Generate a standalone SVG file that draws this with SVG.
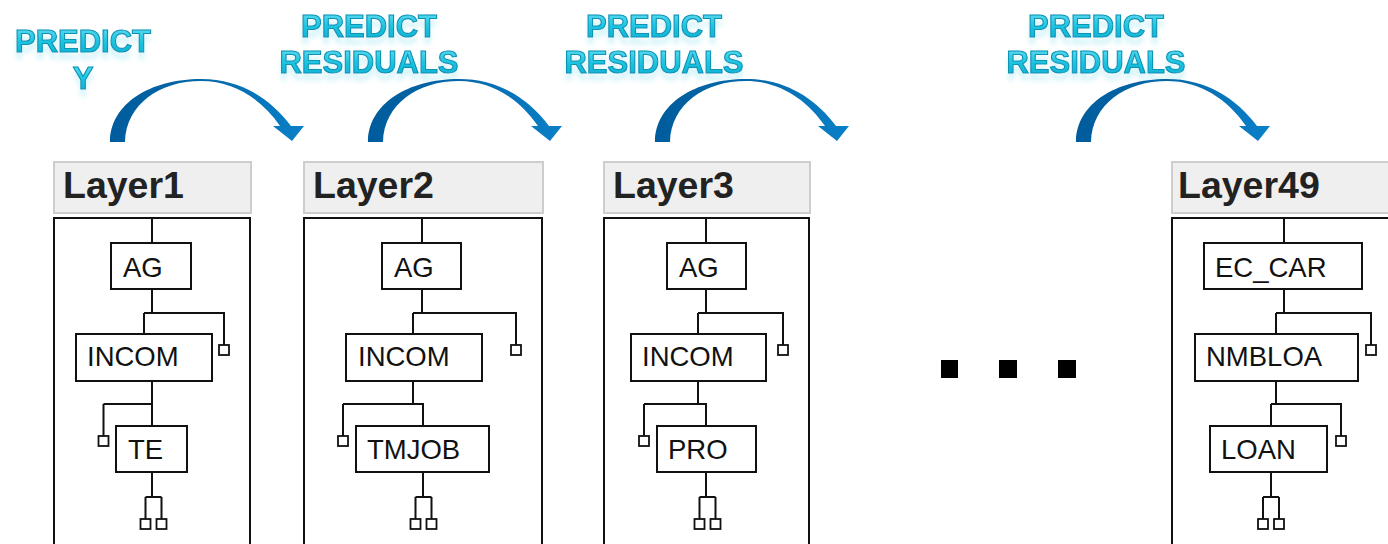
<svg xmlns="http://www.w3.org/2000/svg" width="1388" height="544" viewBox="0 0 1388 544">
<defs>
<style>
.hdr{fill:#efefef;stroke:#cdcdcd;stroke-width:2}
.frame{fill:none;stroke:#111;stroke-width:2}
.box{fill:#fff;stroke:#111;stroke-width:2}
.leaf{fill:#fff;stroke:#111;stroke-width:1.8}
.ln{fill:none;stroke:#111;stroke-width:2}
.ltxt{font-family:"Liberation Sans",Arial,sans-serif;font-weight:bold;font-size:37.5px;fill:#222}
.ntxt{font-family:"Liberation Sans",Arial,sans-serif;font-size:27.5px;fill:#111}
.ptxt{font-family:"Liberation Sans",Arial,sans-serif;font-weight:bold;font-size:31px;fill:url(#cyan);stroke:#0a93b6;stroke-width:1.1;text-anchor:middle;filter:url(#glow)}
.dot{fill:#000}
</style>
<linearGradient id="cyan" x1="0" y1="0" x2="0" y2="1">
<stop offset="0" stop-color="#6fe0f2"/>
<stop offset="0.5" stop-color="#1cc4e0"/>
<stop offset="1" stop-color="#0cacd0"/>
</linearGradient>
<linearGradient id="blue" x1="0" y1="0" x2="1" y2="0">
<stop offset="0" stop-color="#005c9c"/>
<stop offset="0.5" stop-color="#0569ab"/>
<stop offset="1" stop-color="#0a80c8"/>
</linearGradient>
<filter id="glow" x="-10%" y="-20%" width="120%" height="180%">
<feGaussianBlur in="SourceAlpha" stdDeviation="2.5" result="b"/>
<feOffset in="b" dy="7" result="o"/>
<feFlood flood-color="#9fe6f2" flood-opacity="0.45"/>
<feComposite in2="o" operator="in" result="s"/>
<feMerge><feMergeNode in="s"/><feMergeNode in="SourceGraphic"/></feMerge>
</filter>
<path id="arc" d="M110,142 C110,104 150,79 201,79 C240,79 270,98 291,126 L304,126 L292,141 L273,126 L280,126 C262,100 235,81 201,81 C160,81 126,104 125,142 Z" fill="url(#blue)"/>
</defs>

<g id="labels">
<text class="ptxt" x="83" y="52">PREDICT</text>
<text class="ptxt" x="83" y="89">Y</text>
<text class="ptxt" x="369" y="37">PREDICT</text>
<text class="ptxt" x="369" y="73">RESIDUALS</text>
<text class="ptxt" x="654" y="37">PREDICT</text>
<text class="ptxt" x="654" y="73">RESIDUALS</text>
<text class="ptxt" x="1096" y="37">PREDICT</text>
<text class="ptxt" x="1096" y="73">RESIDUALS</text>
</g>

<g id="layer1">
<rect class="hdr" x="54" y="162" width="197" height="51"/>
<text class="ltxt" x="63" y="198">Layer1</text>
<rect class="frame" x="54" y="218" width="196" height="340"/>
</g>
<g id="layer2">
<rect class="hdr" x="304" y="162" width="239" height="51"/>
<text class="ltxt" x="313" y="198">Layer2</text>
<rect class="frame" x="304" y="218" width="238" height="340"/>
</g>
<g id="layer3">
<rect class="hdr" x="604" y="162" width="206" height="51"/>
<text class="ltxt" x="613" y="198">Layer3</text>
<rect class="frame" x="604" y="218" width="205" height="340"/>
</g>
<g id="layer49">
<rect class="hdr" x="1172" y="162" width="240" height="51"/>
<text class="ltxt" x="1178" y="198">Layer49</text>
<rect class="frame" x="1172" y="218" width="240" height="340"/>
</g>

<g id="connectors">
<use href="#arc"/>
<use href="#arc" transform="translate(258,0)"/>
<use href="#arc" transform="translate(545,0)"/>
<use href="#arc" transform="translate(966,0)"/>
<path class="ln" d="M152,218V243 M152,289V313 M144,313H224V345 M144,313V334 M152,381V404 M103.5,404H152V426 M103.5,404V436 M152,472V497 M145.5,497H161.5 M145.5,497V519 M161.5,497V519"/>
<path class="ln" d="M422,218V243 M422,289V313 M413,313H516V345 M413,313V334 M413,381V404 M343,404H423V426 M343,404V436 M423,472V497 M415.5,497H431.5 M415.5,497V519 M431.5,497V519"/>
<path class="ln" d="M706,218V243 M706,289V313 M698,313H783V345 M698,313V334 M698,381V404 M644,404H706V426 M644,404V436 M706,472V497 M699.5,497H715.5 M699.5,497V519 M715.5,497V519"/>
<path class="ln" d="M1284,218V243 M1284,289V313 M1276,313H1371V345 M1276,313V334 M1276,381V404 M1271,404H1341V436 M1271,404V426 M1271,472V497 M1263,497H1279 M1263,497V519 M1279,497V519"/>
</g>

<g id="l1-ag"><rect class="box" x="111" y="243" width="80" height="46"/><text class="ntxt" x="123" y="277">AG</text></g>
<g id="l1-incom"><rect class="box" x="76" y="334" width="136" height="47"/><text class="ntxt" x="87" y="366">INCOM</text></g>
<g id="l1-te"><rect class="box" x="116" y="426" width="71" height="46"/><text class="ntxt" x="128" y="459">TE</text></g>
<g id="l1-leaves"><rect class="leaf" x="219" y="345" width="10" height="10"/><rect class="leaf" x="98.5" y="436" width="10" height="10"/><rect class="leaf" x="140.5" y="519" width="10" height="10"/><rect class="leaf" x="156.5" y="519" width="10" height="10"/></g>

<g id="l2-ag"><rect class="box" x="382" y="243" width="79" height="46"/><text class="ntxt" x="394" y="277">AG</text></g>
<g id="l2-incom"><rect class="box" x="346" y="334" width="136" height="47"/><text class="ntxt" x="358" y="366">INCOM</text></g>
<g id="l2-tmjob"><rect class="box" x="356" y="426" width="133" height="46"/><text class="ntxt" x="367" y="459">TMJOB</text></g>
<g id="l2-leaves"><rect class="leaf" x="511" y="345" width="10" height="10"/><rect class="leaf" x="338" y="436" width="10" height="10"/><rect class="leaf" x="410.5" y="519" width="10" height="10"/><rect class="leaf" x="426.5" y="519" width="10" height="10"/></g>

<g id="l3-ag"><rect class="box" x="667" y="243" width="79" height="46"/><text class="ntxt" x="679" y="277">AG</text></g>
<g id="l3-incom"><rect class="box" x="631" y="334" width="135" height="47"/><text class="ntxt" x="642" y="366">INCOM</text></g>
<g id="l3-pro"><rect class="box" x="657" y="426" width="99" height="46"/><text class="ntxt" x="668" y="459">PRO</text></g>
<g id="l3-leaves"><rect class="leaf" x="778" y="345" width="10" height="10"/><rect class="leaf" x="639" y="436" width="10" height="10"/><rect class="leaf" x="694.5" y="519" width="10" height="10"/><rect class="leaf" x="710.5" y="519" width="10" height="10"/></g>

<g id="l49-eccar"><rect class="box" x="1204" y="243" width="158" height="46"/><text class="ntxt" x="1215" y="277">EC_CAR</text></g>
<g id="l49-nmbloa"><rect class="box" x="1195" y="334" width="163" height="47"/><text class="ntxt" x="1206" y="366">NMBLOA</text></g>
<g id="l49-loan"><rect class="box" x="1210" y="426" width="117" height="46"/><text class="ntxt" x="1221" y="459">LOAN</text></g>
<g id="l49-leaves"><rect class="leaf" x="1366" y="345" width="10" height="10"/><rect class="leaf" x="1336" y="436" width="10" height="10"/><rect class="leaf" x="1258" y="519" width="10" height="10"/><rect class="leaf" x="1274" y="519" width="10" height="10"/></g>

<g id="ellipsis">
<rect class="dot" x="941" y="360" width="17" height="18"/>
<rect class="dot" x="999" y="360" width="18" height="18"/>
<rect class="dot" x="1058" y="360" width="18" height="18"/>
</g>
</svg>
